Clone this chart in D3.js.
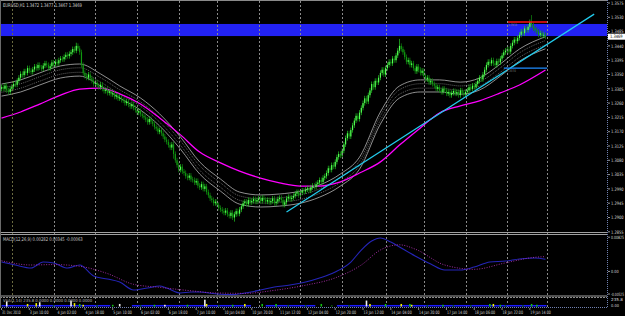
<!DOCTYPE html>
<html><head><meta charset="utf-8">
<script src="https://cdn.jsdelivr.net/npm/d3@7"></script>
<style>html,body{margin:0;padding:0;background:#000;overflow:hidden}</style>
</head><body><svg id="c" width="625" height="316"></svg>
<script>
// ---------------- DATA ----------------
const titleText = "EURUSD,H1  1.3472  1.3477  1.3467  1.3469";
const lastPrice = 1.3469;
const basePrice = 1.2900;            // closes below are pips above this
const closePips = [
 410,405,415,400,395,405,412,420,418,
 430,440,452,448,460,455,470,462,458,
 466,475,470,480,472,468,478,485,
 480,470,476,488,482,490,485,495,500,
 498,505,512,508,515,520,
 530,525,540,532,520,
 480,455,445,440,450,438,
 430,420,425,415,410,418,
 405,398,402,392,396,388,
 390,380,384,375,378,370,
 368,360,365,355,350,356,
 345,338,330,335,325,320,
 315,308,300,310,302,
 295,285,280,270,275,265,
 255,245,238,228,220,230,
 200,180,165,150,160,145,
 140,130,125,132,120,118,
 110,115,100,95,105,90,98,
 80,70,60,55,45,50,
 40,30,25,20,15,22,10,
 5,15,0,10,20,12,25,
 35,45,50,42,55,48,52,
 58,50,55,60,52,62,56,50,
 55,48,52,60,45,50,58,62,
 55,40,48,60,65,58,62,
 68,75,80,70,78,85,82,
 88,92,85,95,100,96,
 105,110,118,112,125,130,
 140,155,150,165,160,
 175,190,200,195,210,
 230,250,265,255,275,
 290,305,320,310,330,
 345,360,375,365,385,
 400,420,410,430,425,
 440,455,465,450,470,
 480,490,485,500,495,
 510,525,540,530,520,
 505,490,495,480,485,
 470,460,475,465,455,462,
 445,435,440,425,430,420,
 415,405,410,400,395,405,
 400,390,395,385,392,398,
 390,395,385,400,392,388,
 395,400,410,405,415,410,
 420,430,440,435,450,
 465,480,490,485,495,
 485,480,492,488,500,
 510,520,525,530,522,
 540,550,560,555,565,
 575,585,580,595,590,
 600,615,605,595,590,
 585,575,580,572,575,569
];
const wickPips = 8;
const spikeBars  = [43, 99, 134, 229, 305];
const spikeHighs = [550, null, null, 562, 637];
const spikeLows  = [null, 185, -13, null, null];

const priceTicks = [1.3575,1.3530,1.3485,1.3440,1.3395,1.3350,1.3305,1.3260,1.3215,1.3170,1.3125,1.3080,1.3035,1.2990,1.2945,1.2900,1.2855];
const timeLabels = ["31 Dec 2010","3 Jan 10:00","4 Jan 02:00","4 Jan 18:00","5 Jan 10:00","6 Jan 02:00","6 Jan 18:00","7 Jan 10:00","10 Jan 04:00","10 Jan 20:00","11 Jan 12:00","12 Jan 04:00","12 Jan 20:00","13 Jan 12:00","14 Jan 04:00","14 Jan 20:00","17 Jan 14:00","18 Jan 06:00","18 Jan 22:00","19 Jan 14:00"];
const timeLabelBars = [0,16,32,48,64,80,96,112,128,144,160,176,192,208,224,240,256,272,288,304];
const gridBars = [6,30,54,78,102,124,148,172,196,221,243,267,291,314];

// moving average (magenta)
const maBars = [0,11,22,34,45,57,68,80,91,103,114,126,137,149,160,172,183,195,206,218,229,241,252,264,275,287,298,313];
const maVals = [1.3213,1.3232,1.3257,1.3285,1.3304,1.3307,1.3289,1.3257,1.3213,1.3160,1.3106,1.3072,1.3046,1.3024,1.3009,1.2999,1.2999,1.3012,1.3040,1.3075,1.3128,1.3182,1.3229,1.3251,1.3267,1.3292,1.3317,1.3364];
// envelope centre (grey bands)
const envBars = [0,11,22,34,45,57,68,80,91,103,114,126,137,149,160,172,183,195,206,218,229,241,252,264,275,287,298,313];
const envMid  = [1.3301,1.3314,1.3336,1.3358,1.3364,1.3333,1.3295,1.3257,1.3207,1.3134,1.3056,1.3002,1.2961,1.2952,1.2955,1.2964,1.2983,1.3018,1.3071,1.3213,1.3295,1.3314,1.3314,1.3307,1.3320,1.3364,1.3411,1.3450];
const envOuter = 0.0019, envInner = 0.0007;

// MACD
const macdLabel = "MACD(12,26,9) 0.00282 0.00345 -0.00063";
const macdBars = [0,8,17,24,30,38,45,53,61,68,76,84,91,95,103,109,114,123,132,140,149,157,166,175,183,192,201,207,213,218,224,229,238,247,255,264,272,281,290,298,307,313];
const macdMain = [0.00219,0.00149,0.00079,0.00219,0.00196,0.00079,0.00149,-0.00107,-0.00177,-0.00247,-0.00433,-0.00386,-0.0034,-0.00386,-0.00503,-0.0048,-0.0048,-0.0052,-0.0054,-0.00503,-0.00433,-0.00363,-0.00317,-0.00247,-0.00154,-0.00014,0.00219,0.00498,0.00708,0.00778,0.00684,0.00568,0.00359,0.00172,0.00033,0.00033,0.00102,0.00219,0.00242,0.00289,0.00312,0.00282];
const sigBars = [0,17,30,45,61,76,91,109,123,140,157,175,192,207,218,229,238,255,272,290,307,313];
const macdSignal = [0.0025,0.0015,0.0016,0.0012,-0.0005,-0.0030,-0.0037,-0.0045,-0.0050,-0.0051,-0.0044,-0.0032,-0.0015,0.0015,0.0050,0.0062,0.0052,0.0015,0.0005,0.0020,0.0033,0.00345];
const macdTicks = [0.00825, 0, -0.00525];
const macdTickLabels = ["0.00825","0.00","-0.00525"];

// volume-type sub window
const volLabel = "VSA(1,14) 235.8 0.0000 0.0000 0.0000 0.0000";
const volTickLabels = ["235.8","0.00"];
const volBlueFrom = [0, 75, 152, 193];
const volBlueTo   = [62, 143, 180, 313];
const volMarkBars = [3,15,20,22,40,42,45,47,64,68,88,94,107,117,118,133,140,150,158,184,210,212,221,230,235,236,254,281,283,287,305,308, 30,55,80,125,165,175,190,200,245,260,270,290,300];
const volMarkVals = [6,3,4,5,7,4,3,2,2,3,2,2,2,8,3,2,3,3,3,3,7,3,3,3,3,2,2,3,3,2,3,2, 1.5,1.5,1.5,1.5,1.5,1.5,1.5,1.5,1.5,1.5,1.5,1.5,1.5];
const volMarkKind = ["w","y","y","w","w","y","g","y","g","w","g","w","g","w","y","g","y","g","g","g","w","y","g","y","g","y","g","g","y","g","g","g", "d","d","d","d","d","d","d","d","d","d","d","d","d"];

// objects
const zoneTop = 1.3509, zoneBottom = 1.3471;
const trendBars = [164, 341], trendVals = [1.2917, 1.3540];
const redLevel = 1.3515, redBars = [291, 314];
const blueLevel = 1.3370, blueBars = [289, 314];

// ---------------- DRAW ----------------
const W = 625, H = 316, plotR = 607;
const svg = d3.select("#c");
const FONT = "DejaVu Sans, Arial, sans-serif";
svg.append("rect").attr("width", W).attr("height", H).attr("fill", "#000");

const x = d3.scaleLinear().domain([0, closePips.length - 1]).range([1.5, 545.5]);
const y = d3.scaleLinear().domain([1.2855, 1.3575]).range([231.8, 3]);
const yM = d3.scaleLinear().domain([-0.00525, 0.00825]).range([294, 236]);
const yV = d3.scaleLinear().domain([0, 10]).range([306.5, 298]);

const defs = svg.append("defs");
defs.append("clipPath").attr("id", "cm").append("rect").attr("x", 0).attr("y", 0).attr("width", plotR).attr("height", 232);
defs.append("clipPath").attr("id", "cd").append("rect").attr("x", 0).attr("y", 235).attr("width", plotR).attr("height", 61);

// text squeezed horizontally to a target width (tiny MT4 screen font)
function txt(g, s, px, py, width, color, size) {
  const t = g.append("text").attr("x", 0).attr("y", 0).text(s)
    .attr("font-family", FONT).attr("font-size", size || 5).attr("fill", color || "#d8d8d8");
  const nat = t.node().getComputedTextLength() || 1;
  t.attr("transform", `translate(${px},${py}) scale(${(width / nat).toFixed(4)},1)`);
  return t;
}

// main panel
const main = svg.append("g").attr("clip-path", "url(#cm)");
main.append("rect").attr("x", 0).attr("width", plotR)
  .attr("y", y(zoneTop)).attr("height", y(zoneBottom) - y(zoneTop)).attr("fill", "#2222f4");

// grid (through all sub windows)
const grid = svg.append("g");
gridBars.forEach((b, k) => {
  grid.append("line").attr("x1", Math.round(x(b)) + 0.5).attr("x2", Math.round(x(b)) + 0.5)
    .attr("y1", 1).attr("y2", 307).attr("stroke", k === 0 ? "#6a6a40" : "#8a8a8a")
    .attr("stroke-width", 1).attr("stroke-dasharray", "2,2");
});

// envelope bands
const envLine = off => d3.line().x((d, i) => x(envBars[i])).y((d, i) => y(envMid[i] + off)).curve(d3.curveMonotoneX);
[[envOuter, "#b4b4b4", null], [-envOuter, "#b4b4b4", null], [envInner, "#7a7a7a", "1,1"], [-envInner, "#7a7a7a", "1,1"]].forEach(([off, col, dash]) => {
  const p = main.append("path").datum(envMid).attr("d", envLine(off)).attr("fill", "none")
    .attr("stroke", col).attr("stroke-width", 0.8);
  if (dash) p.attr("stroke-dasharray", dash);
});

// moving average
main.append("path").datum(maVals)
  .attr("d", d3.line().x((d, i) => x(maBars[i])).y(d => y(d)).curve(d3.curveMonotoneX))
  .attr("fill", "none").attr("stroke", "#ff00ff").attr("stroke-width", 1.3);

// candles
const bars = closePips.map((c, i) => {
  const o = i > 0 ? closePips[i - 1] : c - 5;
  let hi = Math.max(o, c) + wickPips, lo = Math.min(o, c) - wickPips;
  const s = spikeBars.indexOf(i);
  if (s >= 0) { if (spikeHighs[s] != null) hi = spikeHighs[s]; if (spikeLows[s] != null) lo = spikeLows[s]; }
  const p = v => basePrice + v / 10000;
  return { i, o: p(o), c: p(c), h: p(hi), l: p(lo) };
});
const cg = main.append("g");
cg.selectAll("rect.w").data(bars).join("rect").attr("class", "w")
  .attr("x", d => x(d.i) - 0.35).attr("width", 0.7)
  .attr("y", d => y(d.h)).attr("height", d => Math.max(0.8, y(d.l) - y(d.h)))
  .attr("fill", d => d.c >= d.o ? "#22cc22" : "#118a11");
cg.selectAll("rect.b").data(bars).join("rect").attr("class", "b")
  .attr("x", d => x(d.i) - 0.6).attr("width", 1.2)
  .attr("y", d => y(Math.max(d.o, d.c))).attr("height", d => Math.max(0.8, Math.abs(y(d.o) - y(d.c))))
  .attr("fill", d => d.c >= d.o ? "#55ff55" : "#0f9a0f");

// trend line
main.append("line").attr("x1", x(trendBars[0])).attr("y1", y(trendVals[0]))
  .attr("x2", x(trendBars[1])).attr("y2", y(trendVals[1]))
  .attr("stroke", "#22ccee").attr("stroke-width", 1.2);
// horizontal levels
main.append("line").attr("x1", x(redBars[0])).attr("x2", x(redBars[1])).attr("y1", y(redLevel)).attr("y2", y(redLevel))
  .attr("stroke", "#ff1010").attr("stroke-width", 1.4);
main.append("line").attr("x1", x(blueBars[0])).attr("x2", x(blueBars[1])).attr("y1", y(blueLevel)).attr("y2", y(blueLevel))
  .attr("stroke", "#1e8cff").attr("stroke-width", 1.4);
txt(main, redLevel.toFixed(4), x(redBars[0]) + 1, y(redLevel) + 4, 9, "#8a8a8a", 3.5);
txt(main, blueLevel.toFixed(4), x(blueBars[0]) + 3, y(blueLevel) + 4, 9, "#8a8a8a", 3.5);

// title
txt(svg, titleText, 3, 6.5, 79, "#d0d0d0");

// separators & borders
const sep = svg.append("g");
[[232.5, "#a0a0a0"], [234.5, "#a0a0a0"], [296, "#a0a0a0"]].forEach(([yy, c]) =>
  sep.append("line").attr("x1", 0).attr("x2", plotR).attr("y1", yy).attr("y2", yy).attr("stroke", c).attr("stroke-width", 1));
sep.append("line").attr("x1", 0).attr("x2", plotR).attr("y1", 297.5).attr("y2", 297.5).attr("stroke", "#8a8a8a").attr("stroke-dasharray", "2,1");
sep.append("line").attr("x1", 0).attr("x2", plotR).attr("y1", 307.5).attr("y2", 307.5).attr("stroke", "#7080b0").attr("stroke-dasharray", "1,1");
sep.append("line").attr("x1", plotR + 0.5).attr("x2", plotR + 0.5).attr("y1", 0).attr("y2", 308).attr("stroke", "#7080b0").attr("stroke-dasharray", "1,1");
sep.append("line").attr("x1", 0).attr("x2", plotR).attr("y1", 0.5).attr("y2", 0.5).attr("stroke", "#8a8a8a");
sep.append("line").attr("x1", 0.5).attr("x2", 0.5).attr("y1", 0).attr("y2", 308).attr("stroke", "#6a6a6a");

// price axis
const ax = svg.append("g");
priceTicks.forEach(p => {
  const yy = y(p);
  ax.append("line").attr("x1", plotR + 1).attr("x2", plotR + 3).attr("y1", yy).attr("y2", yy).attr("stroke", "#d0d0d0").attr("stroke-width", 0.7);
  txt(ax, p.toFixed(4), plotR + 4, yy + 1.7, 12.5, "#d8d8d8", 4.6);
});
const ly = y(lastPrice);
ax.append("rect").attr("x", plotR + 1).attr("y", ly - 3).attr("width", 17).attr("height", 6).attr("fill", "#fff");
txt(ax, lastPrice.toFixed(4), plotR + 3, ly + 1.7, 12.5, "#000", 4.6);

// MACD
const md = svg.append("g").attr("clip-path", "url(#cd)");
md.append("path").datum(macdMain)
  .attr("d", d3.line().x((d, i) => x(macdBars[i])).y(d => yM(d)).curve(d3.curveMonotoneX))
  .attr("fill", "none").attr("stroke", "#2525b8").attr("stroke-width", 1.1);
md.append("path").datum(macdSignal)
  .attr("d", d3.line().x((d, i) => x(sigBars[i])).y(d => yM(d)).curve(d3.curveMonotoneX))
  .attr("fill", "none").attr("stroke", "#b030b0").attr("stroke-width", 0.9).attr("stroke-dasharray", "1,1.5");
txt(svg, macdLabel, 3, 240.5, 80, "#c8c8c8");
macdTicks.forEach((v, k) => {
  const yy = yM(v) + (k === 0 ? 1.2 : 0);
  ax.append("line").attr("x1", plotR + 1).attr("x2", plotR + 3).attr("y1", yy).attr("y2", yy).attr("stroke", "#d0d0d0").attr("stroke-width", 0.7);
  txt(ax, macdTickLabels[k], plotR + 4, yy + 1.7, Math.min(13, macdTickLabels[k].length * 1.9), "#d8d8d8", 4.4);
});

// volume-type window
const vg = svg.append("g");
volBlueFrom.forEach((f, k) => {
  vg.append("rect").attr("x", x(f)).attr("width", x(volBlueTo[k]) - x(f) + 1)
    .attr("y", yV(1.8)).attr("height", yV(0) - yV(1.8)).attr("fill", "#1a1aff");
});
const kindCol = { w: "#f0f0f0", y: "#f0f000", g: "#10c010", d: "#0a6a0a" };
volMarkBars.forEach((b, k) => {
  vg.append("rect").attr("x", x(b) - 0.8).attr("width", 1.6)
    .attr("y", yV(volMarkVals[k])).attr("height", yV(0) - yV(volMarkVals[k]))
    .attr("fill", kindCol[volMarkKind[k]]);
});
txt(svg, volLabel, 3, 301.5, 89, "#b8b8b8", 4.2);
txt(ax, volTickLabels[0], plotR + 4, 301, 12, "#d8d8d8", 4);
txt(ax, volTickLabels[1], plotR + 4, 306.5, 8, "#d8d8d8", 4);

// time axis
timeLabels.forEach((s, k) => {
  const xx = x(timeLabelBars[k]);
  ax.append("line").attr("x1", xx).attr("x2", xx).attr("y1", 308).attr("y2", 310).attr("stroke", "#c0c0c0").attr("stroke-width", 0.7);
  txt(ax, s, xx + 0.5, 313.8, s.length * 1.7, "#d0d0d0", 4.6);
});
</script></body></html>
